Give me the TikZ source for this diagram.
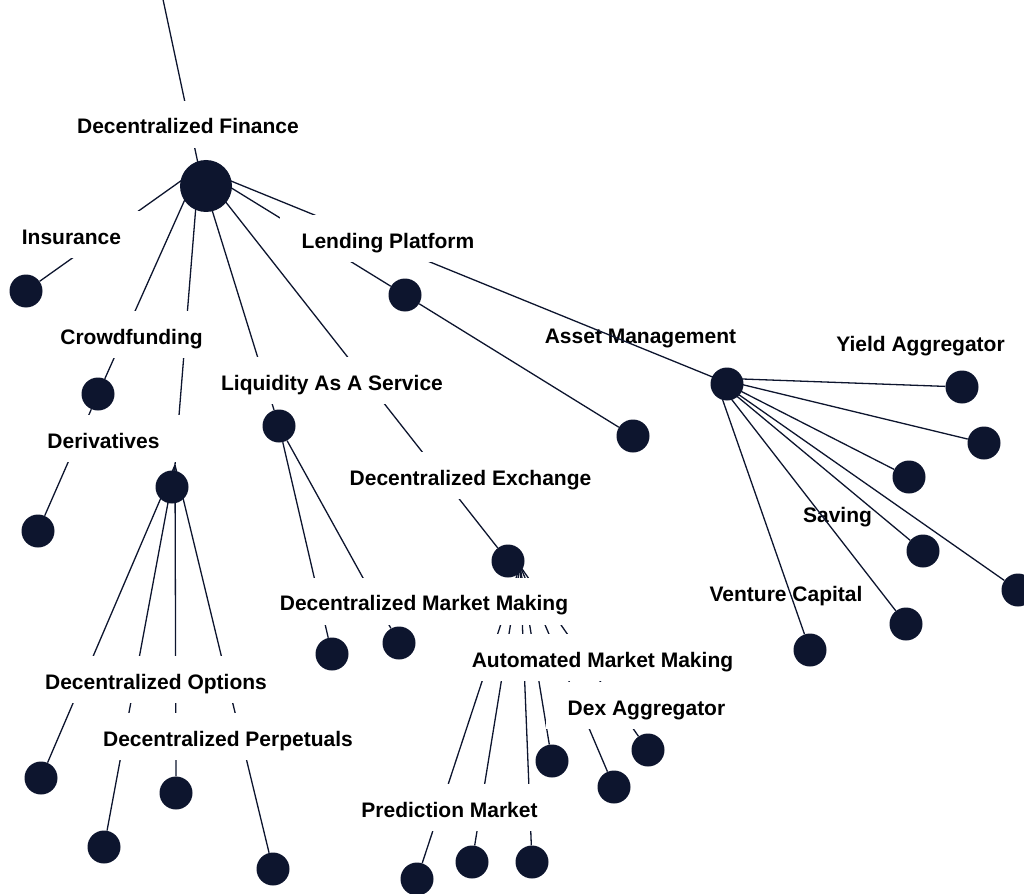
\documentclass[tikz,border=0pt]{standalone}
\usepackage{fontspec}
\setmainfont{Liberation Sans}
\definecolor{navy}{RGB}{13,21,46}
\pgfdeclarelayer{edgesA}
\pgfdeclarelayer{labA}
\pgfdeclarelayer{edgesB}
\pgfdeclarelayer{labB}
\pgfsetlayers{edgesA,labA,edgesB,labB,main}
\begin{document}
\begin{tikzpicture}[x=1pt,y=-1pt,
  dot/.style={circle,fill=navy,draw=none,minimum size=33pt,inner sep=0pt},
  hubdot/.style={dot,minimum size=52pt},
  link/.style={draw=navy,line width=1.3pt},
  lbl/.style={font=\bfseries\fontsize{21}{25}\selectfont,text=black,anchor=base,
    text height=19pt,text depth=0pt,inner xsep=22pt,inner ysep=14pt},
  masklbl/.style={lbl,fill=white}]
\useasboundingbox (0,0) rectangle (1024,893);

% circles
\node[hubdot] (df) at (206,186) {};
\node[dot] (cIns) at (26,291) {};
\node[dot] (cLend) at (405,295) {};
\node[dot] (cCrowd) at (98,394) {};
\node[dot] (cLiq) at (279,426) {};
\node[dot] (cLend2) at (633,436) {};
\node[dot] (cAm) at (727,384) {};
\node[dot] (cA1) at (962,387) {};
\node[dot] (cA2) at (984,443) {};
\node[dot] (cA3) at (909,477) {};
\node[dot] (cA4) at (923,551) {};
\node[dot] (cA5) at (1018,590) {};
\node[dot] (cA6) at (906,624) {};
\node[dot] (cA7) at (810,650) {};
\node[dot] (cDer2) at (38,531) {};
\node[dot] (cDer) at (172,487) {};
\node[dot] (cDex) at (508,561) {};
\node[dot] (cDmm1) at (332,654) {};
\node[dot] (cDmm2) at (399,643) {};
\node[dot] (cO1) at (41,778) {};
\node[dot] (cO2) at (104,847) {};
\node[dot] (cO3) at (176,793) {};
\node[dot] (cO4) at (273,869) {};
\node[dot] (cM1) at (417,879) {};
\node[dot] (cM2) at (472,862) {};
\node[dot] (cM3) at (532,862) {};
\node[dot] (cM4) at (552,761) {};
\node[dot] (cM5) at (614,787) {};
\node[dot] (cM6) at (648,750) {};

% link anchors
\coordinate (topEnd) at (161,-10);
\coordinate (dfA) at (199,168);
\coordinate (derA) at (175,465);
\coordinate (dexA) at (520,566);
\coordinate (amA) at (715,378);

\begin{pgfonlayer}{edgesA}
\draw[link] (topEnd) -- (dfA);
\draw[link] (dfA) -- (cIns);
\draw[link] (dfA) -- (cCrowd) -- (cDer2);
\draw[link] (dfA) -- (derA) -- (cDer);
\draw[link] (dfA) -- (cLiq);
\draw[link] (dfA) -- (cDex);
\draw[link] (dfA) -- (cLend) -- (cLend2);
\draw[link] (cLiq) -- (cDmm1);
\draw[link] (cLiq) -- (cDmm2);
\foreach \t in {cO1,cO2,cO3,cO4} \draw[link] (derA) -- (\t);
\foreach \t in {cM1,cM2,cM3,cM4,cM5,cM6} \draw[link] (dexA) -- (\t);
\end{pgfonlayer}

\begin{pgfonlayer}{labA}
\node[lbl] (lAm) at (640.5,343) {Asset Management};
\node[lbl] (lYield) at (920.5,351) {Yield Aggregator};
\node[lbl] (lSav) at (837.5,522) {Saving};
\node[lbl] (lVc) at (786,601) {Venture Capital};
\end{pgfonlayer}

\begin{pgfonlayer}{edgesB}
\draw[link] (dfA) -- (amA) -- (cAm);
\foreach \t in {cA1,cA2,cA3,cA4,cA5,cA6,cA7} \draw[link] (amA) -- (\t);
\end{pgfonlayer}

\begin{pgfonlayer}{labB}
\node[masklbl] (lDf) at (188,134) {Decentralized Finance};
\node[masklbl] (lIns) at (71.5,244) {Insurance};
\node[masklbl] (lLend) at (388,248) {Lending Platform};
\node[masklbl] (lCrowd) at (131.5,344) {Crowdfunding};
\node[masklbl] (lDer) at (103.5,448) {Derivatives};
\node[masklbl] (lLiq) at (332,390) {Liquidity As A Service};
\node[masklbl] (lDex) at (470.5,485) {Decentralized Exchange};
\node[masklbl] (lDmm) at (424,610.5) {Decentralized Market Making};
\node[masklbl] (lAmm) at (602.5,667) {Automated Market Making};
\node[masklbl] (lDag) at (646.5,715) {Dex Aggregator};
\node[masklbl] (lPred) at (449.5,817) {Prediction Market};
\node[masklbl] (lOpt) at (156,689) {Decentralized Options};
\node[masklbl] (lPerp) at (228,746) {Decentralized Perpetuals};
\end{pgfonlayer}
\end{tikzpicture}
\end{document}
